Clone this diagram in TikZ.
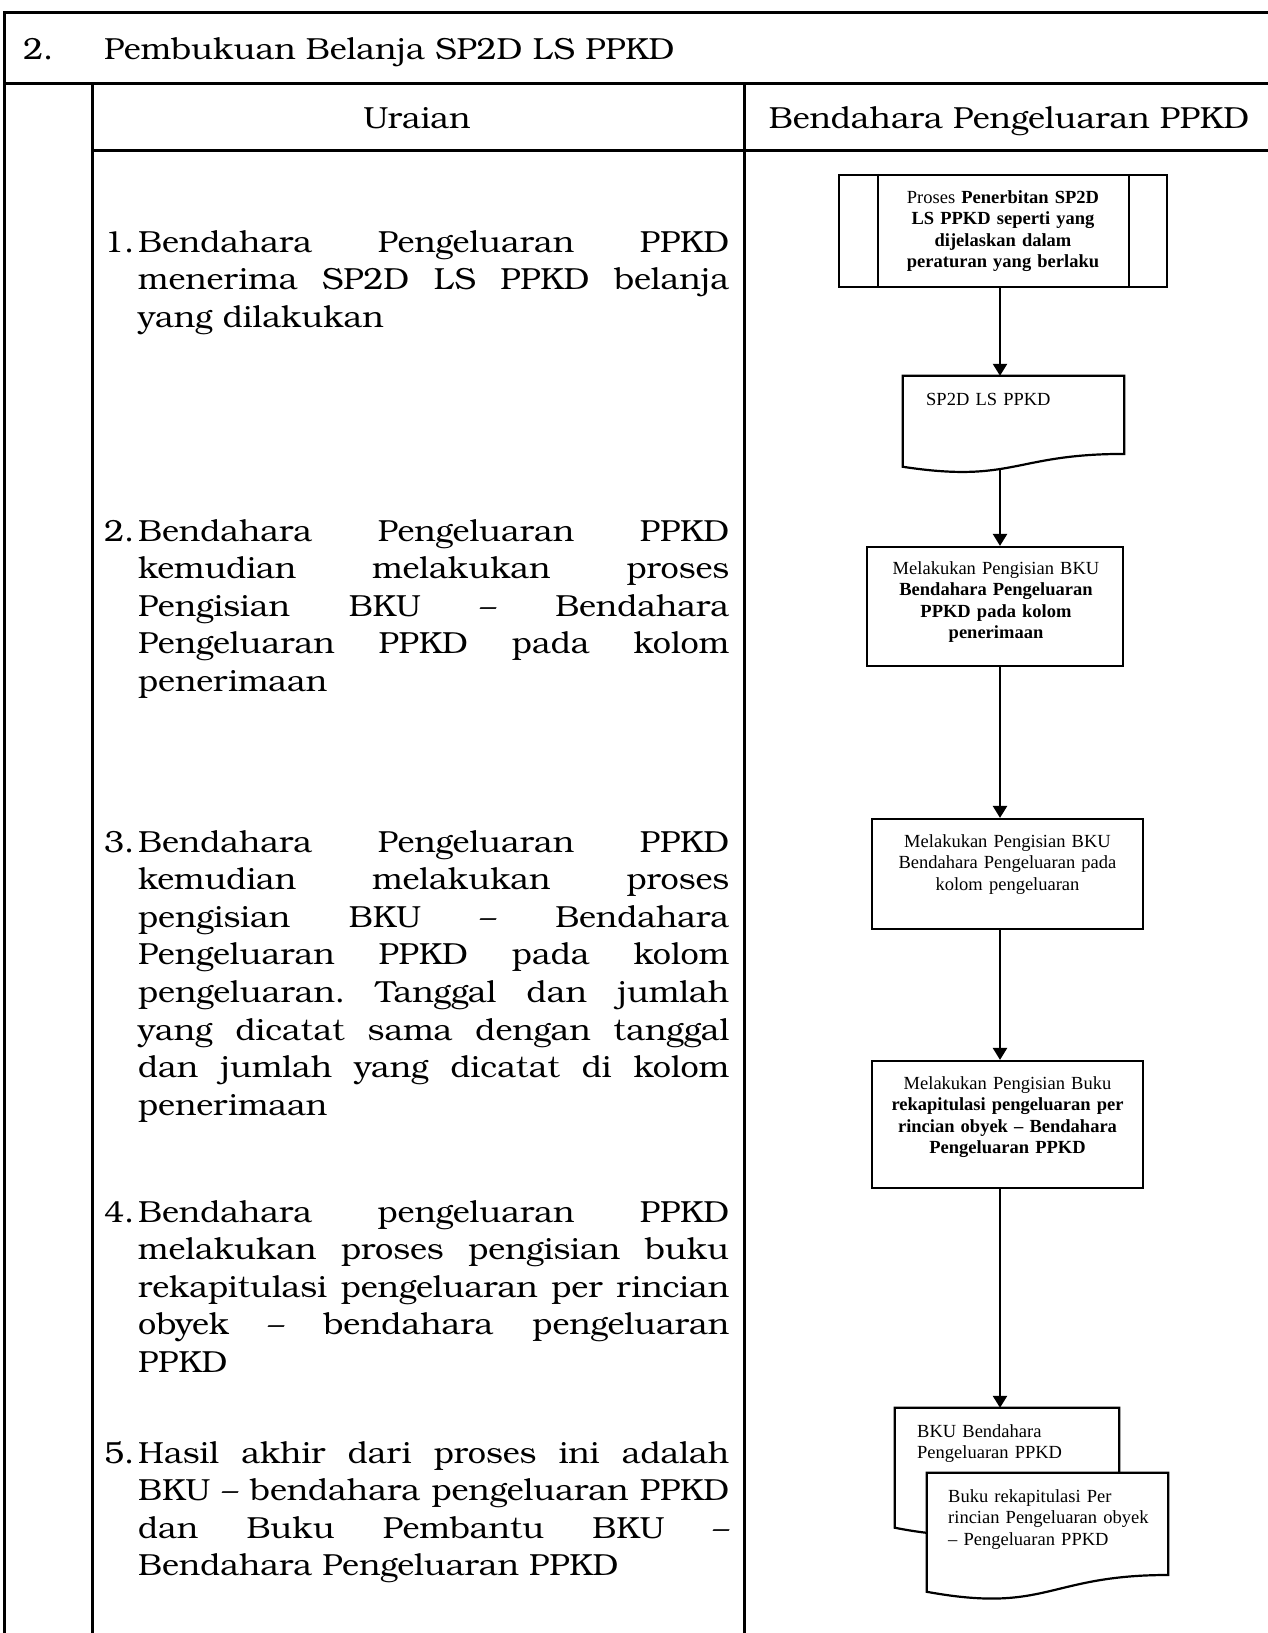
\documentclass[tikz,border=0pt]{standalone}
\usepackage{fontspec}
\setmainfont{Liberation Serif}
\newfontfamily\bookfont[FakeStretch=1.06]{TeX Gyre Bonum}
\usetikzlibrary{arrows.meta,calc}
\pgfdeclarelayer{background}
\pgfsetlayers{background,main}

\newcommand\steptextsetup{\bookfont\fontsize{30.5}{37.6}\selectfont
  \tolerance=10000 \hyphenpenalty=10000 }

\tikzset{
  tbl/.style={line width=3pt, line join=miter},
  flowline/.style={line width=2.2pt},
  arr/.style={line width=2.4pt, -{Triangle[length=12pt,width=14pt]}},
  procbox/.style={draw, line width=2.2pt, fill=white, rectangle, inner sep=0pt},
  docbox/.style={rectangle, inner sep=0pt},
  docline/.style={line width=2.2pt, fill=white},
  flowtext/.style={font=\fontsize{18.5}{21.5}\selectfont, text width=#1,
    align=center, inner sep=0pt, anchor=base},
  flowtext/.default=300pt,
  doctext/.style={font=\fontsize{18.5}{21.5}\selectfont, text width=230pt,
    align=left, inner sep=0pt, anchor=base west},
  hdr/.style={font=\bookfont\fontsize{30.5}{37.6}\selectfont, inner sep=0pt},
  numtext/.style={font=\bookfont\fontsize{30.5}{37.6}\selectfont, inner sep=0pt,
    anchor=base west},
  bodytext/.style={font=\steptextsetup,
    text width=591pt, align=justify, inner sep=0pt, anchor=base west},
}

% document symbol: wavy bottom edge
\newcommand\docoutline[1]{%
  \filldraw[docline] (#1.north west) -- (#1.north east)
    -- ($(#1.north east)!0.802!(#1.south east)$)
    .. controls ($(#1.north)!0.802!(#1.south)$) and ($(#1.north)!1.107!(#1.south)$)
    .. ($(#1.north west)!0.934!(#1.south west)$) -- cycle;}

\begin{document}
\begin{tikzpicture}[x=1pt,y=-1pt]
\useasboundingbox (0,0) rectangle (1267,1633);

% table frame
\draw[tbl] (1275,12) -- (4,12) -- (4,1645);
\draw[tbl] (4,83) -- (1275,83);
\draw[tbl] (92,83) -- (92,1645);
\draw[tbl] (744,83) -- (744,1645);
\draw[tbl] (92,150) -- (1275,150);

% headings
\node[hdr, anchor=base west] (secnum) at (23,59) {2.};
\node[hdr, anchor=base west] (sectitle) at (104,59) {Pembukuan Belanja SP2D LS PPKD};
\node[hdr, anchor=base] (colA) at (417,128) {Uraian};
\node[hdr, anchor=base] (colB) at (1009,128) {Bendahara Pengeluaran PPKD};

% description steps
\node[numtext] (n1) at (104,252) {1.};
\node[bodytext] (t1) at (138,252) {Bendahara Pengeluaran PPKD\linebreak
  menerima SP2D LS PPKD belanja\linebreak yang dilakukan};

\node[numtext] (n2) at (104,541) {2.};
\node[bodytext] (t2) at (138,541) {Bendahara Pengeluaran PPKD\linebreak
  kemudian melakukan proses\linebreak Pengisian BKU – Bendahara\linebreak
  Pengeluaran PPKD pada kolom\linebreak penerimaan};

\node[numtext] (n3) at (104,852) {3.};
\node[bodytext] (t3) at (138,852) {Bendahara Pengeluaran PPKD\linebreak
  kemudian melakukan proses\linebreak pengisian BKU – Bendahara\linebreak
  Pengeluaran PPKD pada kolom\linebreak pengeluaran.\ Tanggal dan jumlah\linebreak
  yang dicatat sama dengan tanggal\linebreak dan jumlah yang dicatat di kolom\linebreak
  penerimaan};

\node[numtext] (n4) at (104,1222) {4.};
\node[bodytext] (t4) at (138,1222) {Bendahara pengeluaran PPKD\linebreak
  melakukan proses pengisian buku\linebreak rekapitulasi pengeluaran per rincian\linebreak
  obyek – bendahara pengeluaran\linebreak PPKD};

\node[numtext] (n5) at (104,1463) {5.};
\node[bodytext] (t5) at (138,1463) {Hasil akhir dari proses ini adalah\linebreak
  BKU – bendahara pengeluaran PPKD\linebreak dan Buku Pembantu BKU –\linebreak
  Bendahara Pengeluaran PPKD};

% flowchart
\coordinate (ax) at (1000,0);

\node[procbox, minimum width=328pt, minimum height=112pt] (p1) at (1003,231) {};
\draw[flowline] ([xshift=40pt]p1.north west) -- ([xshift=40pt]p1.south west);
\draw[flowline] ([xshift=-39pt]p1.north east) -- ([xshift=-39pt]p1.south east);
\node[flowtext=240pt] (p1txt) at (1003,203) {Proses \textbf{Penerbitan SP2D}\\
  \textbf{LS PPKD seperti yang}\\ \textbf{dijelaskan dalam}\\
  \textbf{peraturan yang berlaku}};

\node[docbox, minimum width=221pt, minimum height=97pt] (d1) at (1013.5,424.5) {};
\docoutline{d1}
\node[doctext] (d1txt) at (926,405) {SP2D LS PPKD};

\node[procbox, minimum width=256pt, minimum height=119pt] (b2) at (995,606.5) {};
\node[flowtext=250pt] (b2txt) at (996,574) {Melakukan Pengisian BKU\\
  \textbf{Bendahara Pengeluaran}\\ \textbf{PPKD pada kolom}\\ \textbf{penerimaan}};

\node[procbox, minimum width=271pt, minimum height=110pt] (b3) at (1007.5,874) {};
\node[flowtext=265pt] (b3txt) at (1007.5,847) {Melakukan Pengisian BKU\\
  Bendahara Pengeluaran pada\\ kolom pengeluaran};

\node[procbox, minimum width=271pt, minimum height=127pt] (b4) at (1007.5,1124.5) {};
\node[flowtext=265pt] (b4txt) at (1007.5,1089) {Melakukan Pengisian Buku\\
  \textbf{rekapitulasi pengeluaran per}\\ \textbf{rincian obyek – Bendahara}\\
  \textbf{Pengeluaran PPKD}};

\node[docbox, minimum width=224pt, minimum height=128pt] (dA) at (1007,1472) {};
\docoutline{dA}
\node[doctext] (dAtxt) at (917,1437) {BKU Bendahara\\ Pengeluaran PPKD};

\node[docbox, minimum width=241pt, minimum height=127pt] (dB) at (1047.5,1536.5) {};
\docoutline{dB}
\node[doctext] (dBtxt) at (948,1502) {Buku rekapitulasi Per\\
  rincian Pengeluaran obyek\\ – Pengeluaran PPKD};

% connectors
\begin{pgfonlayer}{background}
\draw[arr] (p1.south -| ax) -- (d1.north -| ax);
\draw[arr] (d1.center -| ax) -- (b2.north -| ax);
\draw[arr] (b2.south -| ax) -- (b3.north -| ax);
\draw[arr] (b3.south -| ax) -- (b4.north -| ax);
\draw[arr] (b4.south -| ax) -- (dA.north -| ax);
\end{pgfonlayer}
\end{tikzpicture}
\end{document}
